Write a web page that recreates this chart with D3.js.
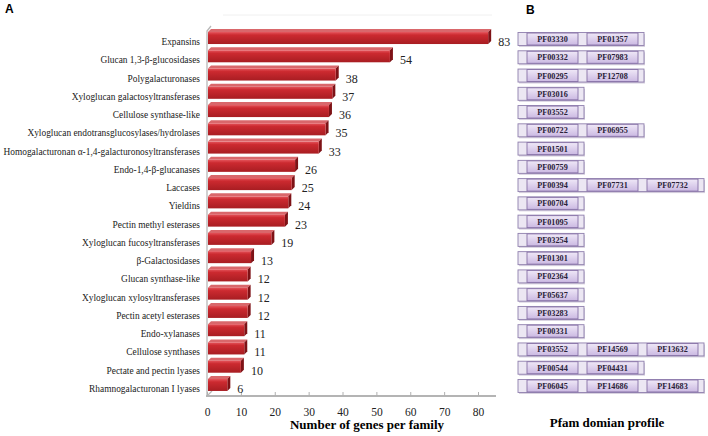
<!DOCTYPE html>
<html><head><meta charset="utf-8">
<script src="https://cdn.jsdelivr.net/npm/d3@7"></script>
<style>body{margin:0;background:#fff}svg{display:block}
.serif{font-family:"Liberation Serif","Times New Roman",Times,"DejaVu Serif",serif}
.sans{font-family:"Liberation Sans",Arial,sans-serif}
</style>
</head><body>
<svg id="c" width="708" height="436"></svg>
<script>
const categories = ["Expansins","Glucan 1,3-β-glucosidases","Polygalacturonases","Xyloglucan galactosyltransferases","Cellulose synthase-like","Xyloglucan endotransglucosylases/hydrolases","Homogalacturonan α-1,4-galacturonosyltransferases","Endo-1,4-β-glucanases","Laccases","Yieldins","Pectin methyl esterases","Xyloglucan fucosyltransferases","β-Galactosidases","Glucan synthase-like","Xyloglucan xylosyltransferases","Pectin acetyl esterases","Endo-xylanases","Cellulose synthases","Pectate and pectin lyases","Rhamnogalacturonan I lyases"];
const values = [83,54,38,37,36,35,33,26,25,24,23,19,13,12,12,12,11,11,10,6];
const domains = [["PF03330","PF01357"],["PF00332","PF07983"],["PF00295","PF12708"],["PF03016"],["PF03552"],["PF00722","PF06955"],["PF01501"],["PF00759"],["PF00394","PF07731","PF07732"],["PF00704"],["PF01095"],["PF03254"],["PF01301"],["PF02364"],["PF05637"],["PF03283"],["PF00331"],["PF03552","PF14569","PF13632"],["PF00544","PF04431"],["PF06045","PF14686","PF14683"]];
const xTicks = [0,10,20,30,40,50,60,70,80];

const svg = d3.select("#c");
const defs = svg.append("defs");
const g1 = defs.append("linearGradient").attr("id","barG").attr("x1",0).attr("y1",0).attr("x2",0).attr("y2",1);
g1.append("stop").attr("offset","0%").attr("stop-color","#e4535a");
g1.append("stop").attr("offset","25%").attr("stop-color","#cc2a30");
g1.append("stop").attr("offset","100%").attr("stop-color","#a81d22");
const g2 = defs.append("linearGradient").attr("id","domG").attr("x1",0).attr("y1",0).attr("x2",0).attr("y2",1);
g2.append("stop").attr("offset","0%").attr("stop-color","#efe8f7");
g2.append("stop").attr("offset","100%").attr("stop-color","#cbb9e2");

const x = d3.scaleLinear().domain([0,80]).range([207,478]);
const y = d3.scaleBand().domain(categories).range([32.9,398.1]).padding(0);
const c = d => y(d) + y.bandwidth()/2;

// panel labels
svg.append("text").attr("class","sans").attr("x",5).attr("y",13).text("A").attr("font-weight","bold").attr("font-size",12);
svg.append("text").attr("class","sans").attr("x",526).attr("y",14).text("B").attr("font-weight","bold").attr("font-size",12);

// back wall faint top edge
svg.append("line").attr("x1",223).attr("x2",492).attr("y1",15).attr("y2",15).attr("stroke","#f0f0f0");

// left wall
const wallTop = 31, floorY = 396, d3d = 4;
svg.append("path").attr("d",`M207,${floorY} L207,${wallTop} L${207+d3d},${wallTop-d3d-1}`).attr("fill","none").attr("stroke","#b8b8b8").attr("stroke-width",1.3);
svg.append("line").attr("x1",207).attr("y1",floorY).attr("x2",207+d3d+1).attr("y2",floorY-d3d-1).attr("stroke","#b8b8b8").attr("stroke-width",1.2);
svg.append("line").attr("x1",206).attr("x2",496).attr("y1",floorY).attr("y2",floorY).attr("stroke","#b4b4b4").attr("stroke-width",2);

// axis
const ax = svg.append("g").attr("transform",`translate(0,${floorY})`)
  .call(d3.axisBottom(x).tickValues(xTicks).tickSizeInner(-4).tickSizeOuter(0).tickPadding(12));
ax.attr("font-family",null).attr("font-size",null);
ax.select(".domain").remove();
ax.selectAll(".tick line").attr("stroke","#b0b0b0");
ax.selectAll(".tick text").attr("class","serif").style("font-size","11.5px").attr("fill","#222");
svg.append("text").attr("class","serif").attr("x",367).attr("y",429).attr("text-anchor","middle").attr("font-weight","bold").attr("font-size",13).text("Number of genes per family");

// bars
const bh = 12, d = 3;
const bars = svg.append("g").selectAll("g").data(categories).join("g");
bars.each(function(cat,i){
  const gg = d3.select(this);
  const cy = c(cat) - 4;
  const x0 = x(0)+1, x1 = x(values[i]);
  const t = cy - bh/2, b = cy + bh/2;
  gg.append("polygon").attr("points",`${x0},${t} ${x0+d},${t-d} ${x1+d},${t-d} ${x1},${t}`).attr("fill","#d9676b");
  gg.append("polygon").attr("points",`${x1},${t} ${x1+d},${t-d} ${x1+d},${b-d} ${x1},${b}`).attr("fill","#7e1216");
  gg.append("rect").attr("x",x0).attr("y",t).attr("width",x1-x0).attr("height",bh).attr("fill","url(#barG)");
  gg.append("text").attr("class","serif").attr("x",x1+10).attr("y",c(cat)).attr("dominant-baseline","central")
    .attr("font-size",12).attr("fill","#222").text(values[i]);
});

// category labels
svg.append("g").selectAll("text").data(categories).join("text").attr("class","serif")
  .attr("x",200).attr("y",d=>c(d)).attr("text-anchor","end").attr("dominant-baseline","central")
  .attr("font-size",9.4).attr("fill","#222").text(d=>d);

// panel B
const bx = 518, cap = 9, dw = 51, sp = 9, endCap = 6, rh = 13;
domains.forEach((doms,i) => {
  const cy = c(categories[i]) - 3;
  const top = cy - rh/2;
  const w = cap + doms.length*dw + (doms.length-1)*sp + endCap;
  const gg = svg.append("g");
  gg.append("rect").attr("x",bx+1).attr("y",top+1.5).attr("width",w).attr("height",rh).attr("fill","#d8d2e0");
  gg.append("rect").attr("x",bx).attr("y",top).attr("width",w).attr("height",rh).attr("fill","#ece7f3").attr("stroke","#8f7fad").attr("stroke-width",0.9);
  doms.forEach((p,k) => {
    const dx = bx + cap + k*(dw+sp);
    gg.append("rect").attr("x",dx).attr("y",top+0.5).attr("width",dw).attr("height",rh-1).attr("fill","url(#domG)").attr("stroke","#8670a6").attr("stroke-width",0.9);
    gg.append("text").attr("class","serif").attr("x",dx+dw/2).attr("y",cy+0.5).attr("text-anchor","middle").attr("dominant-baseline","central")
      .attr("font-weight","bold").attr("font-size",8.2).attr("fill","#2a2238").text(p);
  });
});
svg.append("text").attr("class","serif").attr("x",607).attr("y",427).attr("text-anchor","middle").attr("font-weight","bold").attr("font-size",13).text("Pfam domian profile");
</script>
</body></html>
